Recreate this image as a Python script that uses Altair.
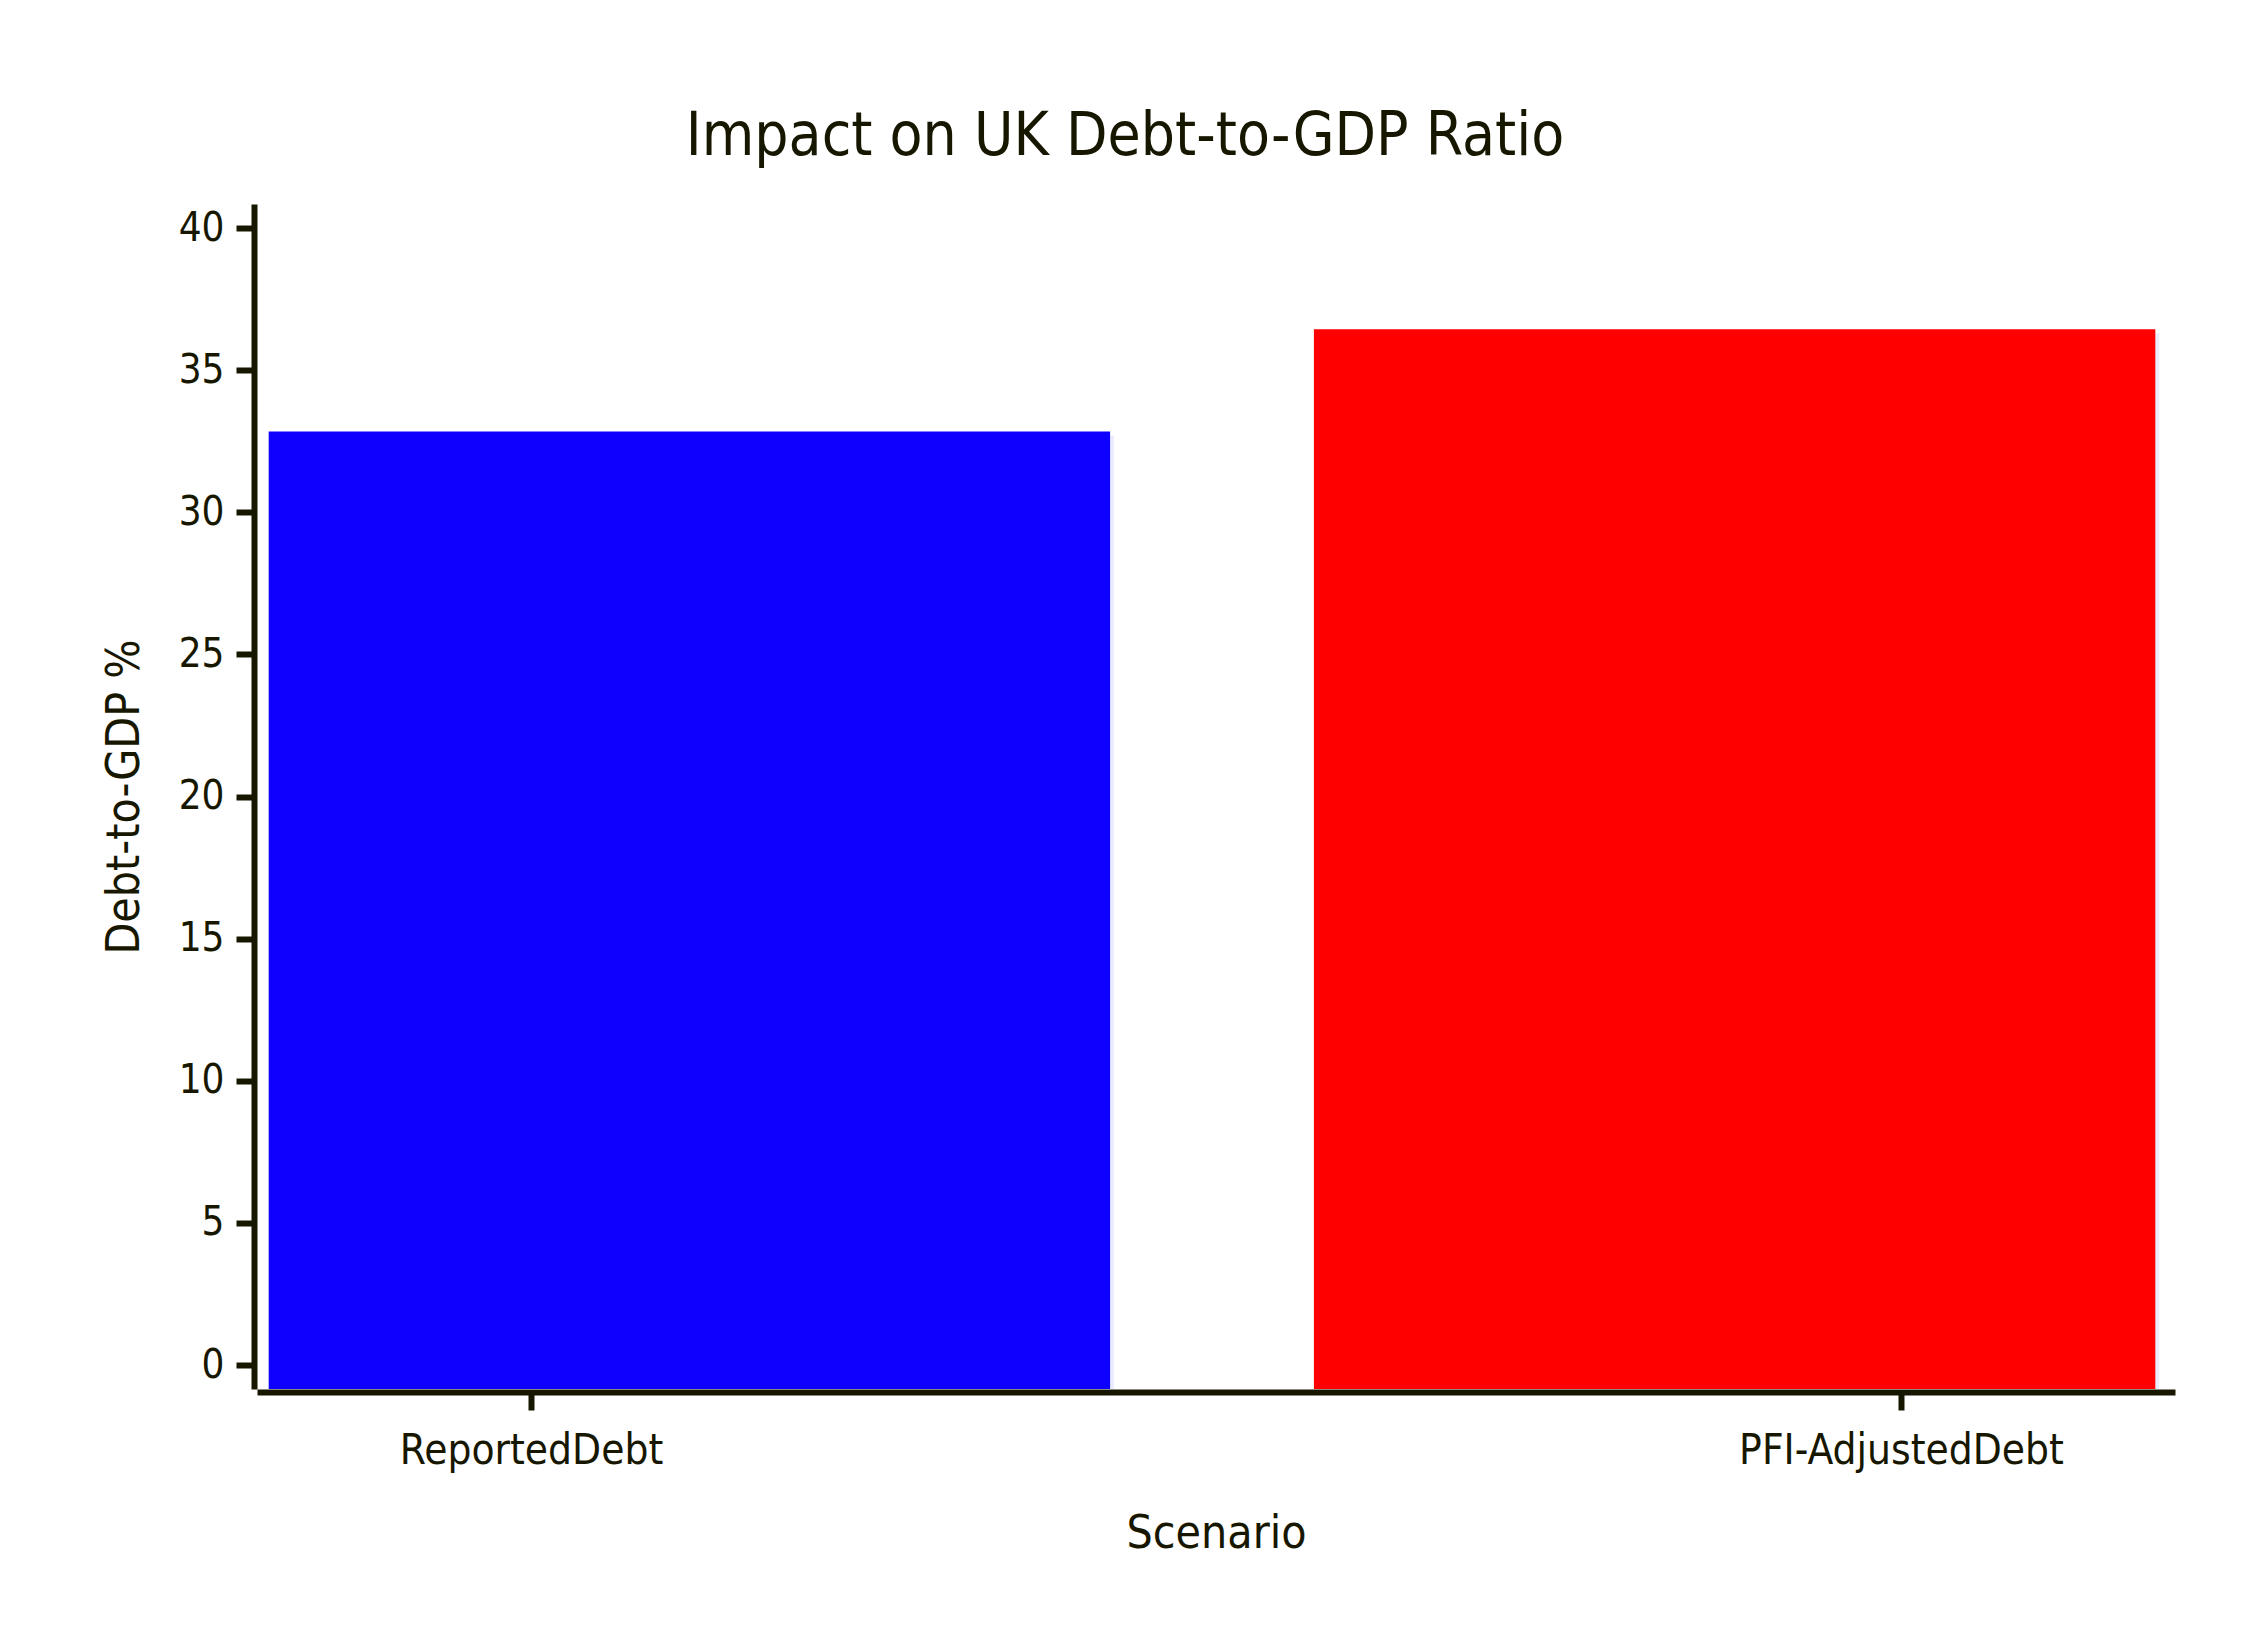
import altair as alt
import pandas as pd

categories = ["ReportedDebt", "PFI-AdjustedDebt"]
debt_values = [32.7, 36.3]
bar_colors = ["#0d00ff", "#ff0000"]
y_ticks = [0, 5, 10, 15, 20, 25, 30, 35, 40]

TEXT = "#171700"
FONT = "DejaVu Sans Condensed"

bars_df = pd.DataFrame({"Scenario": categories, "Value": debt_values})

y_scale = alt.Scale(domain=[y_ticks[0], y_ticks[-1]], zero=False, nice=False, padding=24)
y_axis = alt.Axis(values=y_ticks, labelPadding=12, titlePadding=30, title="Debt-to-GDP %")

band = alt.Scale(domain=categories, paddingInner=0.195, paddingOuter=0.015)

shadow = alt.Chart(bars_df).mark_bar(color="#ececff").encode(
    x=alt.X("Scenario:N", scale=band, axis=None),
    y=alt.Y("Value:Q", scale=y_scale, axis=y_axis, stack=None),
    y2=alt.value("height"),
)

bars = alt.Chart(bars_df).mark_bar(xOffset=-4, yOffset=-4).encode(
    x=alt.X("Scenario:N", scale=band, axis=None),
    y=alt.Y("Value:Q", scale=y_scale, axis=y_axis, stack=None),
    y2=alt.value("height"),
    color=alt.Color("Scenario:N", scale=alt.Scale(domain=categories, range=bar_colors), legend=None),
)

x_axis_layer = alt.Chart(bars_df).mark_point(opacity=0).encode(
    x=alt.X(
        "Scenario:N",
        sort=categories,
        scale=alt.Scale(type="point", padding=0.2),
        axis=alt.Axis(orient="bottom", labelAngle=0, labelPadding=20, titlePadding=40,
                      labelFontSize=42, labelLimit=1000, title="Scenario"),
    ),
)

chart = (
    alt.layer(shadow, bars, x_axis_layer)
    .resolve_scale(x="independent")
    .properties(
        width=1918,
        height=1185,
        padding={"left": 249, "top": 196, "right": 60, "bottom": 240},
        autosize=alt.AutoSizeParams(type="none"),
        title=alt.TitleParams(
            "Impact on UK Debt-to-GDP Ratio",
            font=FONT,
            fontSize=60,
            fontWeight="normal",
            color=TEXT,
            anchor="middle",
            offset=36,
            dx=-91,
        ),
    )
    .configure_view(stroke=None)
    .configure_axis(
        domainColor=TEXT,
        domainWidth=6,
        tickColor=TEXT,
        tickWidth=6,
        tickSize=18,
        offset=3,
        grid=False,
        zindex=1,
        labelFont=FONT,
        labelFontSize=40,
        labelColor=TEXT,
        labelLimit=1000,
        titleFont=FONT,
        titleFontSize=46,
        titleFontWeight="normal",
        titleColor=TEXT,
    )
)

chart.save("out.html", embed_options={"renderer": "svg", "actions": False})
